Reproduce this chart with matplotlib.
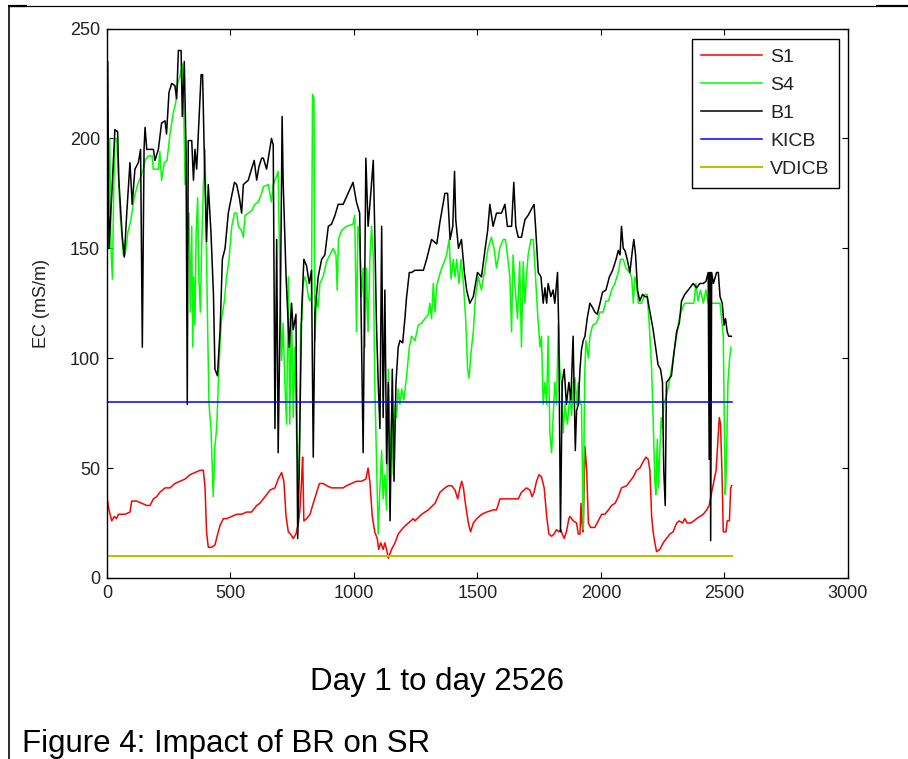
import matplotlib
matplotlib.use("Agg")
import matplotlib.pyplot as plt
from matplotlib.lines import Line2D

plt.rcParams['font.family'] = ['Liberation Sans', 'DejaVu Sans']

# ---------------- data (day, EC mS/m) ----------------
b1_days = [3, 8, 19, 32, 43, 48, 62, 70, 80, 93, 102, 113, 127, 136, 143, 150, 154, 161, 188, 194, 208, 221, 235, 241,
           251, 262, 275, 282, 289, 300, 305, 313, 320, 325, 329, 343, 350, 356, 363, 373, 381, 387, 394, 403, 410, 421,
           431, 437, 447, 458, 467, 478, 491, 505, 516, 525, 536, 545, 552, 572, 585, 596, 606, 615, 626,
           633, 646, 666, 673, 680, 687, 693, 703, 709, 713, 725, 738, 747, 754, 765, 772, 778, 788, 797, 808, 819, 828,
           835, 842, 855, 869, 882, 896, 909, 923, 936, 956, 976, 996, 1010, 1023, 1037, 1048, 1057, 1068, 1078, 1084,
           1091, 1098, 1105, 1112, 1118, 1125, 1132, 1139, 1146, 1155, 1162, 1170, 1179, 1186, 1197, 1206, 1213, 1224,
           1233, 1247, 1281, 1294, 1314, 1335, 1348, 1368, 1379, 1389, 1400, 1407, 1412, 1423, 1435, 1447, 1456, 1469,
           1483, 1500, 1516, 1530, 1541, 1550, 1563, 1577, 1597, 1611, 1621, 1638, 1647, 1655, 1665, 1678, 1692, 1705,
           1719, 1729, 1735, 1746, 1757, 1766, 1773, 1780, 1786, 1797, 1806, 1813, 1824, 1829, 1836, 1843, 1851, 1860,
           1870, 1878, 1887, 1896, 1901, 1908, 1915, 1921, 1928, 1935, 1944, 1955, 1966, 1975, 1985, 1996, 2006, 2020,
           2034, 2047, 2061, 2070, 2077, 2083, 2090, 2097, 2106, 2117, 2128, 2133, 2140, 2148, 2157, 2168, 2178, 2187,
           2198, 2211, 2222, 2231, 2241, 2249, 2254, 2260, 2265, 2272, 2285, 2295, 2306, 2317, 2326, 2339, 2353, 2373,
           2387, 2400, 2414, 2425, 2434, 2438, 2441, 2444, 2448, 2455, 2468, 2475, 2482, 2491, 2498, 2504, 2511, 2517,
           2528]
b1_vals = [235, 150, 174, 204, 203, 181, 155, 146, 166, 189, 170, 186, 189, 195, 105, 195, 205, 195, 195, 190, 195, 207,
           208, 202, 221, 225, 224, 218, 240, 240, 210, 235, 194, 79, 199, 199, 181, 195, 186, 210, 229, 229, 192, 153,
           179, 157, 129, 95, 92, 113, 145, 150, 166, 174, 180, 179, 173, 166, 179, 181, 186, 190, 181, 187, 191,
           191, 186, 200, 197, 68, 154, 57, 137, 210, 181, 137, 105, 125, 113, 120, 18, 49, 121, 145, 142, 134, 140,
           55, 121, 137, 145, 147, 160, 161, 165, 170, 170, 175, 180, 171, 166, 57, 191, 160, 175, 190, 158,
           115, 89, 68, 160, 73, 131, 52, 89, 26, 95, 44, 89, 105, 108, 107, 118, 128, 139,
           139, 140, 140, 145, 154, 152, 162, 175, 175, 154, 160, 185, 163, 150, 154, 139, 131, 125,
           128, 139, 137, 149, 158, 170, 160, 166, 166, 170, 160, 160, 180, 160, 155, 155, 163, 165,
           168, 170, 160, 139, 137, 125, 132, 125, 134, 128, 131, 125, 139, 113, 21, 89, 95, 79,
           89, 81, 110, 58, 76, 79, 95, 104, 108, 110, 118, 125, 123, 121, 120, 125, 130, 131,
           137, 140, 145, 149, 147, 160, 150, 149, 145, 139, 150, 154, 147, 131, 126, 129, 128, 128,
           121, 113, 104, 97, 95, 89, 49, 33, 89, 90, 92, 102, 112, 116, 126, 129, 131, 134,
           132, 134, 134, 135, 139, 54, 139, 17, 139, 134, 139, 139, 128, 125, 115, 118, 112, 110,
           110]

s4_days = [1, 5, 11, 16, 22, 27, 32, 39, 46, 53, 59, 66, 73, 84, 97, 110, 124, 138, 147, 154, 167, 183, 187, 208, 214,
           221, 232, 243, 255, 269, 278, 286, 295, 305, 310, 316, 321, 326, 332, 337, 343, 347, 351, 356, 361, 367, 372,
           378, 383, 390, 397, 402, 408, 413, 421, 426, 430, 437, 444, 451, 458, 464, 475, 484, 494, 505, 516, 525, 532,
           545, 552, 559, 572, 585, 599, 612, 626,
           633, 653, 666, 673, 687, 693, 700, 707, 713, 720, 727, 734, 740, 747, 754, 761, 768, 774, 778, 784, 789, 794,
           801, 808, 815, 822, 828, 832, 838, 842, 848, 855, 862, 875, 889, 902, 916, 927, 932, 937, 949, 969, 996, 1003,
           1010, 1016, 1023, 1030, 1037, 1044, 1050, 1057, 1064, 1071, 1078, 1084, 1091, 1098, 1105, 1112, 1118, 1125,
           1132, 1139, 1146, 1152, 1159, 1166, 1172, 1179, 1186, 1193, 1202, 1213, 1224, 1233,
           1247, 1260, 1274, 1287, 1301, 1307, 1314, 1321, 1328, 1335, 1344, 1355, 1366, 1375, 1385, 1393, 1402, 1409,
           1416, 1425, 1433, 1443, 1452, 1460, 1466, 1473, 1483, 1492, 1503, 1516, 1530, 1543, 1556, 1567, 1577, 1590,
           1604, 1613, 1621, 1631, 1638, 1644, 1651, 1662, 1671, 1678, 1685, 1692, 1698, 1705, 1716, 1726, 1735, 1743,
           1753, 1759, 1766, 1773, 1780, 1786, 1793, 1800, 1806, 1813, 1820, 1827, 1833, 1840, 1847, 1854, 1864, 1874,
           1881, 1888, 1895, 1901, 1908, 1915, 1921, 1928, 1934, 1939, 1949, 1955, 1966, 1982, 1996, 2009, 2020, 2030,
           2043, 2056, 2070, 2079, 2090, 2101, 2115, 2124, 2131, 2137, 2144, 2151, 2164, 2178, 2187, 2195, 2205, 2211,
           2218, 2222, 2228, 2233, 2238, 2244, 2249, 2254, 2265, 2276, 2285, 2295, 2306, 2317, 2330, 2339, 2360, 2376,
           2384, 2393, 2403, 2414, 2425, 2434, 2448, 2482, 2488, 2495, 2499, 2503, 2506, 2509, 2514, 2520, 2526]
s4_vals = [153, 179, 200, 150, 136, 175, 200, 200, 183, 166, 157, 147, 147, 157, 163, 173, 179, 183, 186, 190, 192, 192,
           186, 186, 194, 181, 189, 190, 202, 212, 216, 225, 228, 234, 218, 179, 189, 150, 166, 121, 160, 105, 137, 115,
           157, 173, 137, 121, 150, 178, 195, 153, 110, 79, 68, 50, 37, 60, 68, 89, 108, 118, 126, 137, 145, 160,
           166, 166, 160, 158, 155, 165, 166, 167, 170, 171, 175,
           178, 179, 171, 179, 183, 185, 137, 99, 116, 89, 70, 137, 70, 125, 73, 105, 62, 49, 45, 115, 118, 134,
           137, 134, 128, 126, 129, 220, 218, 108, 128, 123, 134, 137, 144, 147, 150, 147, 131, 154, 158, 160, 161, 165,
           112, 160, 154, 128, 141, 105, 141, 112, 144, 160, 147, 89, 54, 20, 41, 58, 36, 47,
           31, 95, 54, 70, 47, 79, 73, 86, 79, 86, 81, 92, 105, 110,
           108, 115, 116, 118, 120, 125, 118, 134, 121, 133, 137, 141, 144, 147, 154, 136, 145, 137,
           145, 134, 145, 134, 118, 95, 91, 102, 112, 128, 137, 131, 141, 150, 155, 150, 141, 150,
           154, 154, 147, 137, 112, 147, 134, 118, 144, 105, 144, 125, 137, 147, 154, 154, 137, 121,
           105, 110, 79, 89, 79, 110, 66, 57, 73, 89, 79, 115, 95, 89, 66, 79, 70, 83,
           74, 89, 91, 79, 89, 79, 79, 22, 92, 108, 100, 110, 115, 116, 121, 121, 126, 126,
           131, 134, 139, 145, 145, 141, 139, 137, 125, 137, 134, 125, 125, 129, 129, 116, 95, 73,
           44, 38, 63, 41, 57, 73, 68, 79, 83, 89, 95, 102, 110, 118, 123, 125, 125, 125,
           134, 126, 131, 125, 131, 125, 125, 125, 118, 110, 73, 38, 45, 60, 89, 99, 105]

s1_days = [1, 8, 19, 30, 39, 46, 59, 73, 93, 100, 120, 140, 161, 174, 188, 201, 214, 235, 255, 275, 295, 316, 336, 356,
           377, 390, 397, 403, 410, 424, 437, 448, 458, 471, 484, 505, 525, 545, 565, 585, 606,
           619, 640, 660, 680, 693, 707, 716, 725, 734, 743, 754, 765, 775, 781, 788, 792, 797, 808, 822, 835, 849, 860,
           876, 889, 909, 927, 943, 956, 970, 990, 1010, 1030, 1048, 1057, 1064, 1074, 1084, 1094, 1100, 1108, 1118,
           1125, 1132, 1139, 1152, 1166, 1179, 1200, 1220, 1240,
           1247, 1274, 1301, 1328, 1348, 1368, 1382, 1395, 1409, 1420, 1429, 1436, 1443, 1452, 1463, 1472, 1483, 1497,
           1517, 1537, 1564, 1577, 1591, 1611, 1638, 1665, 1678, 1698, 1712, 1721, 1729, 1739, 1749, 1759, 1770, 1780,
           1789, 1800, 1810, 1820, 1829, 1837, 1843, 1851, 1860, 1870,
           1874, 1888, 1901, 1908, 1915, 1919, 1923, 1928, 1935, 1942, 1949, 1958, 1975, 1989, 2003, 2016, 2030, 2043,
           2057, 2070, 2083, 2104, 2117, 2131, 2144, 2157, 2171, 2182, 2191, 2198, 2205, 2211, 2218, 2225, 2238, 2252,
           2265, 2279, 2292, 2306, 2317, 2330, 2339, 2349, 2363, 2376, 2387, 2400, 2414, 2428, 2438, 2448, 2457, 2466,
           2472, 2479, 2484, 2490, 2495, 2506, 2511, 2520, 2525, 2529]
s1_vals = [36, 31, 26, 28, 27, 29, 29, 29, 30, 35, 35, 34, 33, 33, 36, 37, 39, 41, 41, 43, 44, 45, 47, 48,
           49, 49, 41, 21, 14, 14, 15, 20, 24, 27, 27, 28, 29, 29, 30, 30, 33,
           34, 37, 40, 41, 45, 48, 44, 28, 21, 20, 18, 20, 25, 31, 45, 55, 26, 27, 29, 34, 39, 43,
           43, 42, 41, 41, 41, 41, 42, 43, 44, 44, 45, 50, 44, 28, 21, 18, 13, 16, 13,
           16, 13, 9, 13, 16, 20, 23, 25, 27,
           26, 29, 31, 34, 39, 41, 42, 42, 40, 36, 41, 44, 41, 33, 25, 21, 25, 27,
           29, 30, 31, 31, 36, 36, 36, 36, 39, 41, 40, 37, 39, 44, 47, 46, 41, 28,
           20, 19, 20, 22, 21, 22, 20, 18, 21, 27,
           28, 26, 25, 20, 20, 34, 25, 21, 60, 49, 25, 23, 23, 26, 29, 29, 31, 33,
           34, 37, 41, 42, 44, 46, 49, 50, 53, 55, 54, 49, 28, 21, 16, 12, 13, 16,
           18, 20, 21, 25, 26, 25, 27, 25, 25, 26, 27, 28, 29, 31, 33, 39, 44, 49,
           60, 73, 70, 47, 21, 21, 26, 26, 41, 42]

kicb_days = [1, 2530]
kicb_vals = [80, 80]
vdicb_days = [1, 2530]
vdicb_vals = [10, 10]

x_ticks = [0, 500, 1000, 1500, 2000, 2500, 3000]
y_ticks = [0, 50, 100, 150, 200, 250]

# ---------------- figure ----------------
W, H = 908, 759
fig = plt.figure(figsize=(W / 100, H / 100), dpi=100)
fig.patch.set_facecolor('white')

ax = fig.add_axes([107 / W, 1 - 578 / H, (848 - 107) / W, (578 - 28.5) / H])

lw = 1.1
ax.plot(s1_days, s1_vals, color='#ff0000', lw=lw, label='S1')
ax.plot(s4_days, s4_vals, color='#00ff00', lw=lw, label='S4')
ax.plot(b1_days, b1_vals, color='#000000', lw=lw, label='B1')
ax.plot(kicb_days, kicb_vals, color='#0000ff', lw=lw, label='KICB')
ax.plot(vdicb_days, vdicb_vals, color='#bfbf00', lw=lw * 1.3, label='VDICB')

ax.set_xlim(0, 3000)
ax.set_ylim(0, 250)
ax.set_xticks(x_ticks)
ax.set_yticks(y_ticks)
ax.tick_params(direction='in', length=4, width=0.8, top=True, right=True,
               labelsize=13, pad=5, labelcolor='#222222')
for sp in ax.spines.values():
    sp.set_linewidth(1.0)
ax.set_ylabel('EC (mS/m)', fontsize=13, labelpad=14, color='#222222')

leg = ax.legend(loc='upper right', bbox_to_anchor=(0.988, 0.981), fontsize=14,
                frameon=True, fancybox=False, edgecolor='black', framealpha=1,
                handlelength=3.1, labelspacing=0.53, borderpad=0.5, handletextpad=0.42,
                borderaxespad=0)
leg.get_frame().set_linewidth(1.0)
for t in leg.get_texts():
    t.set_color('#222222')

# ---------------- text below ----------------
fig.text(437 / W, 1 - 690 / H, 'Day 1 to day 2526', ha='center', va='baseline', fontsize=22.5)
fig.text(22 / W, 1 - 752 / H, 'Figure 4: Impact of BR on SR', ha='left', va='baseline', fontsize=22.5)

# ---------------- page border lines ----------------
def fline(x0, y0, x1, y1, lwpx):
    fig.add_artist(Line2D([x0 / W, x1 / W], [1 - y0 / H, 1 - y1 / H],
                          transform=fig.transFigure, color='black', lw=lwpx * 0.72,
                          solid_capstyle='butt'))

fline(8, 5.5, 876, 5.5, 1.2)
fline(876, 6, 908, 6, 2.2)
fline(8, 6, 27, 6, 2.2)
fline(8.5, 5, 8.5, 759, 1.6)

fig.savefig('out.png', dpi=100)
